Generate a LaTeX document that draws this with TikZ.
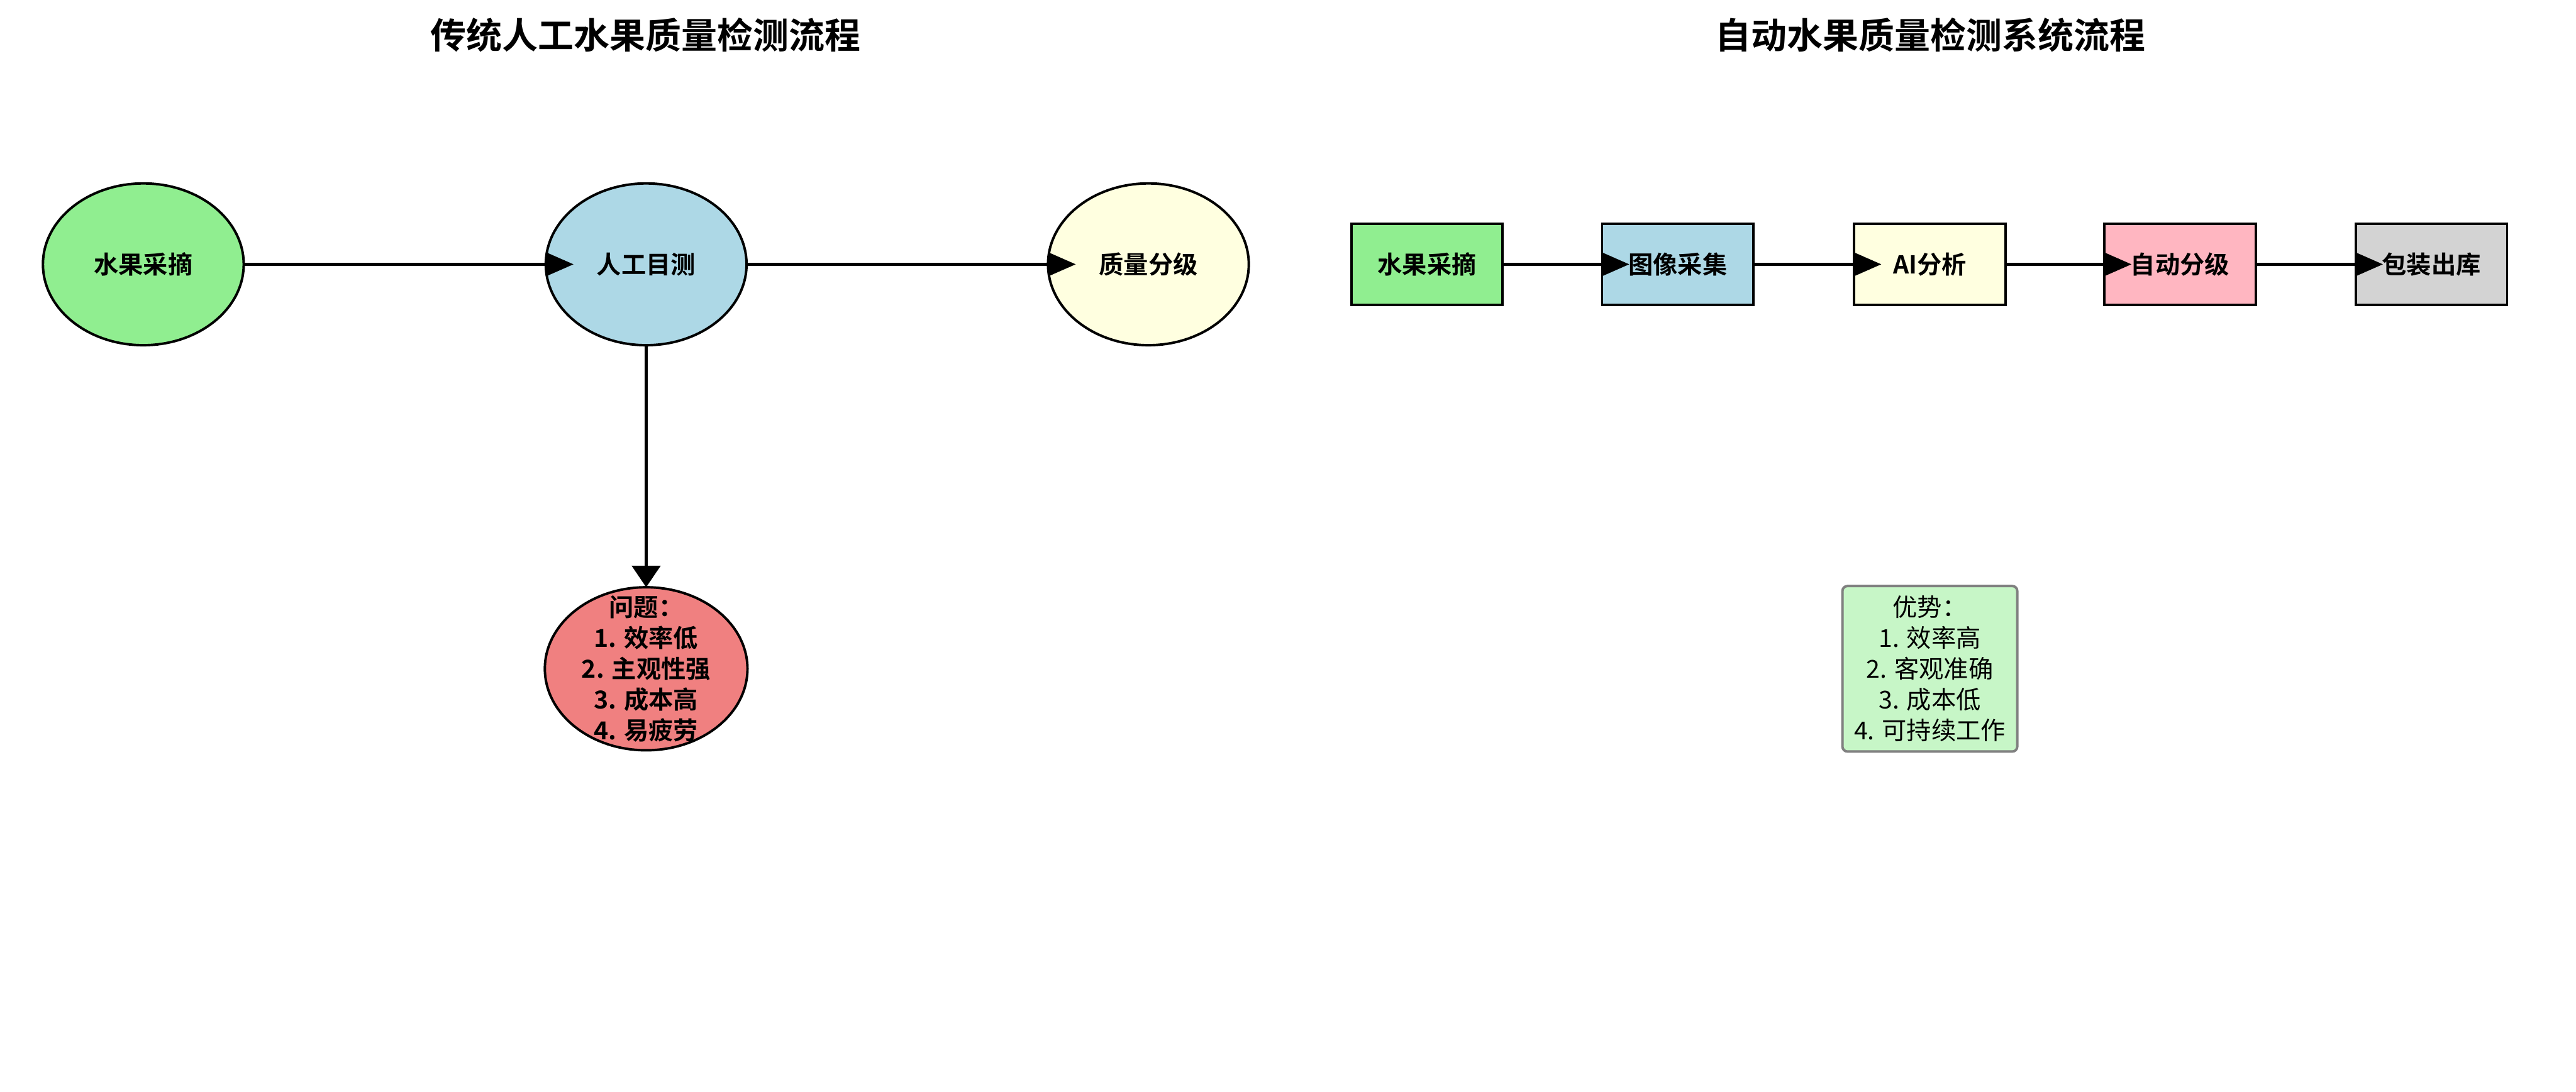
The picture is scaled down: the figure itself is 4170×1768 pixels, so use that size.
\documentclass[tikz,border=0pt]{standalone}
\usepackage{fontspec}
\setmainfont{Noto Sans CJK SC}[BoldFont={Noto Sans CJK SC Bold}]
\usetikzlibrary{shapes.geometric,arrows.meta}
\definecolor{cgreen}{HTML}{90EE90}
\definecolor{cblue}{HTML}{ADD8E6}
\definecolor{cyellow}{HTML}{FFFFE0}
\definecolor{ccoral}{HTML}{F08080}
\definecolor{cpink}{HTML}{FFB6C1}
\definecolor{cgray}{HTML}{D3D3D3}
\definecolor{cadv}{HTML}{C7F6C7}
\definecolor{cadvb}{HTML}{808080}
\tikzset{
  ell/.style={ellipse, draw=black, line width=2pt, minimum width=162.5pt, minimum height=131pt, inner sep=0pt, outer sep=0pt, font=\bfseries\fontsize{20}{25}\selectfont, align=center},
  boxnode/.style={rectangle, draw=black, line width=2pt, minimum width=122.5pt, minimum height=66pt, inner sep=0pt, outer sep=0pt, font=\bfseries\fontsize{20}{25}\selectfont},
  harr/.style={line width=2.5pt, -{Triangle[length=22.5pt, width=19pt]}},
  varr/.style={line width=2.5pt, -{Triangle[length=17.5pt, width=23pt]}},
  ttl/.style={font=\bfseries\fontsize{29}{35}\selectfont},
}
\begin{document}
\begin{tikzpicture}[x=0.5pt,y=-0.5pt]
\useasboundingbox (0,0) rectangle (4170,1768);
% titles
\node[ttl] (t1) at (1045,57) {传统人工水果质量检测流程};
\node[ttl] (t2) at (3125,57) {自动水果质量检测系统流程};
% traditional
\node[ell, fill=cgreen] (e1) at (232,428) {水果采摘};
\node[ell, fill=cblue] (e2) at (1046,428) {人工目测};
\node[ell, fill=cyellow] (e3) at (1859,428) {质量分级};
\node[ell, fill=ccoral, minimum width=164pt, minimum height=132pt] (e4) at (1046,1083) {};
\node[inner sep=0pt, align=center, font=\bfseries\fontsize{20}{25}\selectfont] (e4t) at (e4.center) {问题：\\1. 效率低\\2. 主观性强\\3. 成本高\\4. 易疲劳};
\draw[harr] (e1.east) -- ([xshift=22.5pt]e2.west);
\draw[harr] (e2.east) -- ([xshift=22.5pt]e3.west);
\draw[varr] (e2.south) -- (e4.north);
% automatic
\node[boxnode, fill=cgreen] (b1) at (2310,428) {水果采摘};
\node[boxnode, fill=cblue] (b2) at (2716,428) {图像采集};
\node[boxnode, fill=cyellow] (b3) at (3124,428) {AI分析};
\node[boxnode, fill=cpink] (b4) at (3529,428) {自动分级};
\node[boxnode, fill=cgray] (b5) at (3936,428) {包装出库};
\draw[harr] (b1.east) -- ([xshift=22pt]b2.west);
\draw[harr] (b2.east) -- ([xshift=22pt]b3.west);
\draw[harr] (b3.east) -- ([xshift=22pt]b4.west);
\draw[harr] (b4.east) -- ([xshift=22pt]b5.west);
\node[rectangle, rounded corners=4pt, draw=cadvb, fill=cadv, line width=2pt, minimum width=141.5pt, minimum height=134pt, inner sep=0pt, align=center, font=\fontsize{20}{25}\selectfont] (adv) at (3124,1083) {优势：\\1. 效率高\\2. 客观准确\\3. 成本低\\4. 可持续工作};
\end{tikzpicture}
\end{document}
